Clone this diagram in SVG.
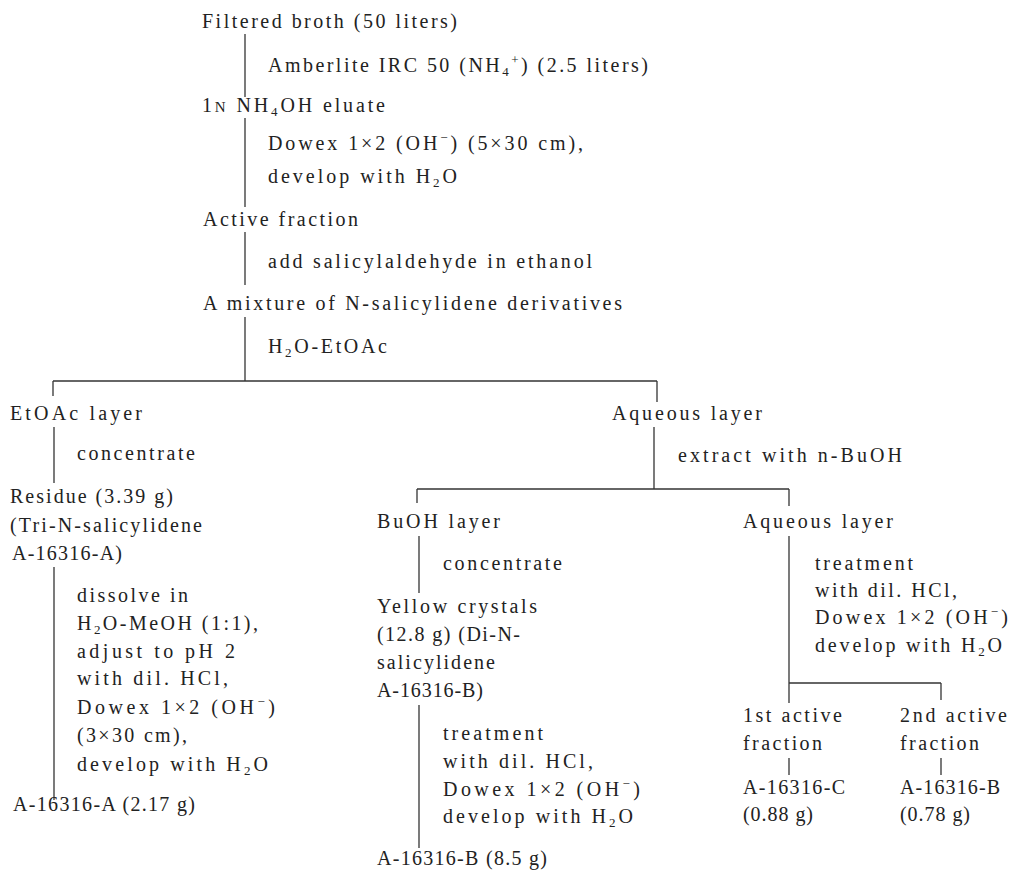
<svg xmlns="http://www.w3.org/2000/svg" width="1013" height="870" viewBox="0 0 1013 870">
<style>
text{font-family:"Liberation Serif","Times New Roman",serif;font-size:20px;fill:#222;}
.s{font-size:13px;}
.sc{font-size:15px;}
#connectors line{stroke:#333;stroke-width:1.3;}
</style>
<rect width="1013" height="870" fill="#fff"/>
<g id="connectors">
<line x1="245" y1="34" x2="245" y2="97"/>
<line x1="245" y1="118" x2="245" y2="207"/>
<line x1="245" y1="232" x2="245" y2="285"/>
<line x1="245" y1="317" x2="245" y2="381"/>
<line x1="53" y1="381" x2="657" y2="381"/>
<line x1="53" y1="381" x2="53" y2="396"/>
<line x1="657" y1="381" x2="657" y2="402"/>
<line x1="54" y1="427" x2="54" y2="483"/>
<line x1="54" y1="567" x2="54" y2="800"/>
<line x1="654" y1="427" x2="654" y2="489"/>
<line x1="417" y1="489" x2="789" y2="489"/>
<line x1="417" y1="489" x2="417" y2="503"/>
<line x1="789" y1="489" x2="789" y2="506"/>
<line x1="419" y1="536" x2="419" y2="593"/>
<line x1="419" y1="705" x2="419" y2="848"/>
<line x1="789" y1="536" x2="789" y2="703"/>
<line x1="789" y1="683" x2="941" y2="683"/>
<line x1="941" y1="683" x2="941" y2="700"/>
<line x1="789" y1="758" x2="789" y2="775"/>
<line x1="941" y1="758" x2="941" y2="775"/>
</g>
<g id="broth"><text x="202" y="28" textLength="255" lengthAdjust="spacing">Filtered broth (50 liters)</text></g>
<g id="step-amberlite"><text x="268" y="72" textLength="380" lengthAdjust="spacing">Amberlite IRC 50 (NH<tspan class="s" dy="4">4</tspan><tspan class="s" dy="-12">+</tspan><tspan dy="8">) (2.5 liters)</tspan></text></g>
<g id="eluate"><text x="202" y="112" textLength="183" lengthAdjust="spacing">1<tspan class="sc">N</tspan> NH<tspan class="s" dy="4">4</tspan><tspan dy="-4">OH eluate</tspan></text></g>
<g id="step-dowex1">
<text x="268" y="150" textLength="315" lengthAdjust="spacing">Dowex 1×2 (OH<tspan class="s" dy="-8">−</tspan><tspan dy="8">) (5×30 cm),</tspan></text>
<text x="268" y="183" textLength="189" lengthAdjust="spacing">develop with H<tspan class="s" dy="4">2</tspan><tspan dy="-4">O</tspan></text>
</g>
<g id="active-fraction"><text x="203" y="226" textLength="155" lengthAdjust="spacing">Active fraction</text></g>
<g id="step-salicyl"><text x="268" y="268" textLength="324" lengthAdjust="spacing">add salicylaldehyde in ethanol</text></g>
<g id="mixture"><text x="203" y="310" textLength="419" lengthAdjust="spacing">A mixture of N-salicylidene derivatives</text></g>
<g id="step-partition"><text x="268" y="353" textLength="119" lengthAdjust="spacing">H<tspan class="s" dy="4">2</tspan><tspan dy="-4">O-EtOAc</tspan></text></g>
<g id="etoac-layer"><text x="10" y="420" textLength="132" lengthAdjust="spacing">EtOAc layer</text></g>
<g id="step-conc1"><text x="77" y="460" textLength="118" lengthAdjust="spacing">concentrate</text></g>
<g id="residue">
<text x="10" y="503" textLength="163" lengthAdjust="spacing">Residue (3.39 g)</text>
<text x="10" y="532" textLength="192" lengthAdjust="spacing">(Tri-N-salicylidene</text>
<text x="12" y="560" textLength="110" lengthAdjust="spacing">A-16316-A)</text>
</g>
<g id="step-dissolve">
<text x="77" y="602" textLength="111" lengthAdjust="spacing">dissolve in</text>
<text x="77" y="630" textLength="181" lengthAdjust="spacing">H<tspan class="s" dy="4">2</tspan><tspan dy="-4">O-MeOH (1:1),</tspan></text>
<text x="77" y="658" textLength="158" lengthAdjust="spacing">adjust to pH 2</text>
<text x="77" y="685" textLength="151" lengthAdjust="spacing">with dil. HCl,</text>
<text x="77" y="714" textLength="198" lengthAdjust="spacing">Dowex 1×2 (OH<tspan class="s" dy="-8">−</tspan><tspan dy="8">)</tspan></text>
<text x="77" y="742" textLength="110" lengthAdjust="spacing">(3×30 cm),</text>
<text x="77" y="771" textLength="191" lengthAdjust="spacing">develop with H<tspan class="s" dy="4">2</tspan><tspan dy="-4">O</tspan></text>
</g>
<g id="a16316a"><text x="13" y="811" textLength="182" lengthAdjust="spacing">A-16316-A (2.17 g)</text></g>
<g id="aqueous-layer-1"><text x="612" y="420" textLength="150" lengthAdjust="spacing">Aqueous layer</text></g>
<g id="step-extract"><text x="678" y="462" textLength="224" lengthAdjust="spacing">extract with n-BuOH</text></g>
<g id="buoh-layer"><text x="377" y="528" textLength="123" lengthAdjust="spacing">BuOH layer</text></g>
<g id="step-conc2"><text x="443" y="570" textLength="119" lengthAdjust="spacing">concentrate</text></g>
<g id="yellow-crystals">
<text x="377" y="613" textLength="160" lengthAdjust="spacing">Yellow crystals</text>
<text x="377" y="641" textLength="143" lengthAdjust="spacing">(12.8 g) (Di-N-</text>
<text x="377" y="669" textLength="118" lengthAdjust="spacing">salicylidene</text>
<text x="377" y="697" textLength="106" lengthAdjust="spacing">A-16316-B)</text>
</g>
<g id="step-treat1">
<text x="443" y="740" textLength="100" lengthAdjust="spacing">treatment</text>
<text x="443" y="768" textLength="150" lengthAdjust="spacing">with dil. HCl,</text>
<text x="443" y="796" textLength="197" lengthAdjust="spacing">Dowex 1×2 (OH<tspan class="s" dy="-8">−</tspan><tspan dy="8">)</tspan></text>
<text x="443" y="823" textLength="190" lengthAdjust="spacing">develop with H<tspan class="s" dy="4">2</tspan><tspan dy="-4">O</tspan></text>
</g>
<g id="a16316b-main"><text x="377" y="865" textLength="170" lengthAdjust="spacing">A-16316-B (8.5 g)</text></g>
<g id="aqueous-layer-2"><text x="743" y="528" textLength="150" lengthAdjust="spacing">Aqueous layer</text></g>
<g id="step-treat2">
<text x="815" y="570" textLength="98" lengthAdjust="spacing">treatment</text>
<text x="815" y="597" textLength="142" lengthAdjust="spacing">with dil. HCl,</text>
<text x="815" y="624" textLength="193" lengthAdjust="spacing">Dowex 1×2 (OH<tspan class="s" dy="-8">−</tspan><tspan dy="8">)</tspan></text>
<text x="815" y="652" textLength="187" lengthAdjust="spacing">develop with H<tspan class="s" dy="4">2</tspan><tspan dy="-4">O</tspan></text>
</g>
<g id="first-active">
<text x="743" y="722" textLength="99" lengthAdjust="spacing">1st active</text>
<text x="743" y="750" textLength="79" lengthAdjust="spacing">fraction</text>
</g>
<g id="a16316c">
<text x="743" y="794" textLength="102" lengthAdjust="spacing">A-16316-C</text>
<text x="743" y="821" textLength="70" lengthAdjust="spacing">(0.88 g)</text>
</g>
<g id="second-active">
<text x="900" y="722" textLength="107" lengthAdjust="spacing">2nd active</text>
<text x="900" y="750" textLength="79" lengthAdjust="spacing">fraction</text>
</g>
<g id="a16316b-2">
<text x="900" y="794" textLength="100" lengthAdjust="spacing">A-16316-B</text>
<text x="900" y="821" textLength="70" lengthAdjust="spacing">(0.78 g)</text>
</g>
</svg>
